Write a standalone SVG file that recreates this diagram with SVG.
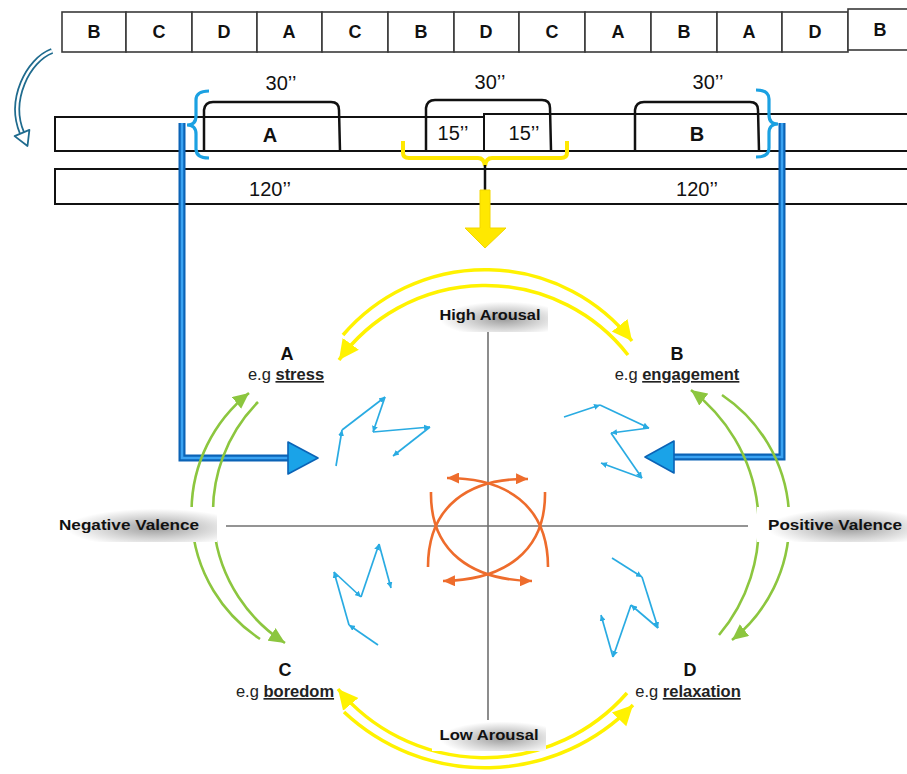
<svg xmlns="http://www.w3.org/2000/svg" width="907" height="774" viewBox="0 0 907 774">
<style>
.cell{fill:#fff;stroke:#3a3a3a;stroke-width:1.6}
.cl{font-family:"Liberation Sans",Arial,sans-serif;font-weight:bold;font-size:18px;text-anchor:middle;fill:#111}
.dur{font-family:"Liberation Sans",Arial,sans-serif;font-size:20px;text-anchor:middle;fill:#111}
.row{fill:#fff;stroke:#111;stroke-width:2}
.brk{fill:none;stroke:#111;stroke-width:2.5}
.bbrk{fill:none;stroke:#1ba1e2;stroke-width:3.2}
.axis{stroke:#707070;stroke-width:1.6}
.ax{font-family:"Liberation Sans",Arial,sans-serif;font-weight:bold;font-size:15px;text-anchor:middle;fill:#111}
.nl{font-family:"Liberation Sans",Arial,sans-serif;font-weight:bold;font-size:18px;text-anchor:middle;fill:#111}
.eg{font-family:"Liberation Sans",Arial,sans-serif;font-size:16.5px;text-anchor:middle;fill:#222}
.eg tspan{font-weight:bold;text-decoration:underline}
.ya{fill:none;stroke:#fff200;stroke-width:3.5}
.ga{fill:none;stroke:#8cc63f;stroke-width:2.6}
.oa{fill:none;stroke:#ee6c2c;stroke-width:2.6}
.za{stroke:#29abe2;stroke-width:1.7;marker-end:url(#bh)}
</style>
<defs>
<marker id="yh" markerUnits="userSpaceOnUse" markerWidth="22" markerHeight="22" viewBox="0 0 22 22" refX="20" refY="11" orient="auto"><path d="M0,1 L20,11 L0,21 z" fill="#fff200"/></marker>
<marker id="gh" markerUnits="userSpaceOnUse" markerWidth="17" markerHeight="15" viewBox="0 0 17 15" refX="16" refY="7.5" orient="auto"><path d="M0,0 L16,7.5 L0,15 z" fill="#8cc63f"/></marker>
<marker id="oh" markerUnits="userSpaceOnUse" markerWidth="13" markerHeight="11" viewBox="0 0 13 11" refX="12" refY="5.5" orient="auto"><path d="M0,0 L12,5.5 L0,11 z" fill="#ee6c2c"/></marker>
<marker id="bh" markerUnits="userSpaceOnUse" markerWidth="7" markerHeight="6" viewBox="0 0 7 6" refX="6" refY="3" orient="auto"><path d="M0,0 L6,3 L0,6 z" fill="#29abe2"/></marker>
<radialGradient id="lbg" cx="0.62" cy="0.6" r="0.55">
<stop offset="0" stop-color="#9c9c9c"/><stop offset="0.55" stop-color="#d4d4d4"/><stop offset="1" stop-color="#ffffff"/>
</radialGradient>
</defs>
<rect width="907" height="774" fill="#fff"/>

<g id="sequence">
<rect class="cell" x="62" y="12" width="64" height="40"/>
<rect class="cell" x="126" y="12" width="66" height="40"/>
<rect class="cell" x="192" y="12" width="65" height="40"/>
<rect class="cell" x="257" y="12" width="65" height="40"/>
<rect class="cell" x="322" y="12" width="66" height="40"/>
<rect class="cell" x="388" y="12" width="66" height="40"/>
<rect class="cell" x="454" y="12" width="65" height="40"/>
<rect class="cell" x="519" y="12" width="66" height="40"/>
<rect class="cell" x="585" y="12" width="66" height="40"/>
<rect class="cell" x="651" y="12" width="66" height="40"/>
<rect class="cell" x="717" y="12" width="65" height="40"/>
<rect class="cell" x="782" y="12" width="66" height="40"/>
<rect class="cell" x="848" y="9" width="64" height="41"/>
<text class="cl" x="94" y="38">B</text>
<text class="cl" x="159" y="38">C</text>
<text class="cl" x="224" y="38">D</text>
<text class="cl" x="289" y="38">A</text>
<text class="cl" x="355" y="38">C</text>
<text class="cl" x="421" y="38">B</text>
<text class="cl" x="486" y="38">D</text>
<text class="cl" x="552" y="38">C</text>
<text class="cl" x="618" y="38">A</text>
<text class="cl" x="684" y="38">B</text>
<text class="cl" x="749" y="38">A</text>
<text class="cl" x="815" y="38">D</text>
<text class="cl" x="880" y="36">B</text>
</g>

<g id="cycle-arrow">
<path d="M52,51 C28,60 8,100 22,133" fill="none" stroke="#1f6b8e" stroke-width="6"/>
<path d="M52,51 C28,60 8,100 22,133" fill="none" stroke="#fff" stroke-width="2.5"/>
<polygon points="29.4,129.9 27.5,146 14.6,136.1" fill="#fff" stroke="#1f6b8e" stroke-width="1.8" stroke-linejoin="round"/>
</g>

<g id="row-epochs">
<path class="row" d="M910,114 L484,114 L484,117 L55,117 L55,151 L910,151"/>
<line x1="484" y1="114" x2="484" y2="151" stroke="#111" stroke-width="2"/>
<path class="brk" d="M204,151 L204,110 Q205,102 213,102 L331,102 Q339,102 339,110 L340,151"/>
<path class="brk" d="M426,150 L426,108 Q427,100 435,100 L542,100 Q550,100 550,108 L551,150"/>
<path class="brk" d="M635,151 L635,110 Q636,102 644,102 L750,102 Q758,102 758,110 L759,151"/>
<text class="dur" x="281" y="90">30’’</text>
<text class="dur" x="490" y="89">30’’</text>
<text class="dur" x="708" y="89">30’’</text>
<text class="nl" x="270" y="142" style="font-size:20px">A</text>
<text class="nl" x="697" y="141" style="font-size:20px">B</text>
<text class="dur" x="453" y="140">15’’</text>
<text class="dur" x="524" y="140">15’’</text>
</g>

<g id="row-baseline">
<path class="row" d="M910,169 L55,169 L55,204 L910,204"/>
<text class="dur" x="270" y="196">120’’</text>
<text class="dur" x="697" y="196">120’’</text>
</g>

<g id="axes">
<line class="axis" x1="488" y1="332" x2="488" y2="722"/>
<line class="axis" x1="226" y1="526" x2="748" y2="526"/>
</g>

<g id="connectors">
<path class="bbrk" d="M209,91 Q196,91 196,100 L196,116 Q196,125 187,125 Q196,125 196,134 L196,149 Q196,158 209,158"/>
<path class="bbrk" d="M756,90 Q769,90 769,99 L769,115 Q769,124 778,124 Q769,124 769,133 L769,148 Q769,157 756,157"/>
<path d="M182,123 V458 H292" fill="none" stroke="#0b63b6" stroke-width="7"/>
<path d="M182,123 V458 H292" fill="none" stroke="#3ba3f2" stroke-width="2.6"/>
<polygon points="288,442 318,458 288,474" fill="#1aa3e8" stroke="#0b63b6" stroke-width="1.6" stroke-linejoin="round"/>
<path d="M782,123 V457 H670" fill="none" stroke="#0b63b6" stroke-width="7"/>
<path d="M782,123 V457 H670" fill="none" stroke="#3ba3f2" stroke-width="2.6"/>
<polygon points="674,441 645,457 674,473" fill="#1aa3e8" stroke="#0b63b6" stroke-width="1.6" stroke-linejoin="round"/>
<path d="M403,141 L403,153 Q403,158 409,158 L478,158 Q484,158 485,166 Q486,158 492,158 L561,158 Q567,158 567,153 L567,141" fill="none" stroke="#ffe800" stroke-width="4"/>
<line x1="485" y1="165" x2="485" y2="191" stroke="#111" stroke-width="2.5"/>
<polygon points="480,190 490,190 490,228 506,228 485,248 465,228 480,228" fill="#ffe800" stroke="#f2d600" stroke-width="1"/>
<path class="ya" d="M343,335 A187,187 0 0 1 632,341" marker-end="url(#yh)"/>
<path class="ya" d="M628,355 A181,181 0 0 0 339,360" marker-end="url(#yh)"/>
<path class="ya" d="M344,712 A206,206 0 0 0 633,705" marker-end="url(#yh)"/>
<path class="ya" d="M627,693 A190,190 0 0 1 338,689" marker-end="url(#yh)"/>
<path class="ga" d="M260,639 A152,152 0 0 1 249,393" marker-end="url(#gh)"/>
<path class="ga" d="M258,402 A156,156 0 0 0 285,643" marker-end="url(#gh)"/>
<path class="ga" d="M722,395 A152,152 0 0 1 732,640" marker-end="url(#gh)"/>
<path class="ga" d="M719,635 A170,170 0 0 0 691,390" marker-end="url(#gh)"/>
<path class="oa" d="M428,567 C428,505 470,478 528,479" marker-end="url(#oh)"/>
<path class="oa" d="M548,567 C548,505 506,478 447,478" marker-end="url(#oh)"/>
<path class="oa" d="M431,492 C430,552 472,580 532,581" marker-end="url(#oh)"/>
<path class="oa" d="M545,492 C546,552 504,580 443,581" marker-end="url(#oh)"/>
<g id="traj-A">
<line class="za" x1="336" y1="466" x2="342" y2="430"/>
<line class="za" x1="342" y1="430" x2="385" y2="397"/>
<line class="za" x1="385" y1="397" x2="373" y2="432"/>
<line class="za" x1="373" y1="432" x2="430" y2="427"/>
<line class="za" x1="430" y1="427" x2="393" y2="456"/>
</g>
<g id="traj-B">
<line class="za" x1="564" y1="417" x2="600" y2="405"/>
<line class="za" x1="600" y1="405" x2="649" y2="428"/>
<line class="za" x1="649" y1="428" x2="611" y2="433"/>
<line class="za" x1="611" y1="433" x2="642" y2="478"/>
<line class="za" x1="642" y1="478" x2="601" y2="463"/>
</g>
<g id="traj-C">
<line class="za" x1="378" y1="645" x2="349" y2="625"/>
<line class="za" x1="349" y1="625" x2="334" y2="572"/>
<line class="za" x1="334" y1="572" x2="361" y2="597"/>
<line class="za" x1="361" y1="597" x2="379" y2="544"/>
<line class="za" x1="379" y1="544" x2="391" y2="588"/>
</g>
<g id="traj-D">
<line class="za" x1="612" y1="558" x2="642" y2="577"/>
<line class="za" x1="642" y1="577" x2="658" y2="628"/>
<line class="za" x1="658" y1="628" x2="631" y2="605"/>
<line class="za" x1="631" y1="605" x2="613" y2="657"/>
<line class="za" x1="613" y1="657" x2="601" y2="615"/>
</g>
</g>

<g id="label-high">
<rect x="432" y="300" width="116" height="32" fill="url(#lbg)"/>
<text class="ax" x="490" y="320" textLength="101" lengthAdjust="spacingAndGlyphs">High Arousal</text>
</g>
<g id="label-low">
<rect x="432" y="720" width="114" height="31" fill="url(#lbg)"/>
<text class="ax" x="489" y="740" textLength="99" lengthAdjust="spacingAndGlyphs">Low Arousal</text>
</g>
<g id="label-neg">
<rect x="55" y="507" width="162" height="35" fill="url(#lbg)"/>
<text class="ax" x="129" y="530" textLength="140" lengthAdjust="spacingAndGlyphs">Negative Valence</text>
</g>
<g id="label-pos">
<rect x="757" y="507" width="150" height="35" fill="url(#lbg)"/>
<text class="ax" x="835" y="530" textLength="134" lengthAdjust="spacingAndGlyphs">Positive Valence</text>
</g>

<g id="node-A">
<text class="nl" x="287" y="360">A</text>
<text class="eg" x="286" y="380">e.g <tspan>stress</tspan></text>
</g>
<g id="node-B">
<text class="nl" x="677" y="360">B</text>
<text class="eg" x="677" y="380">e.g <tspan>engagement</tspan></text>
</g>
<g id="node-C">
<text class="nl" x="285" y="676">C</text>
<text class="eg" x="285" y="697">e.g <tspan>boredom</tspan></text>
</g>
<g id="node-D">
<text class="nl" x="690" y="676">D</text>
<text class="eg" x="688" y="697">e.g <tspan>relaxation</tspan></text>
</g>
</svg>
